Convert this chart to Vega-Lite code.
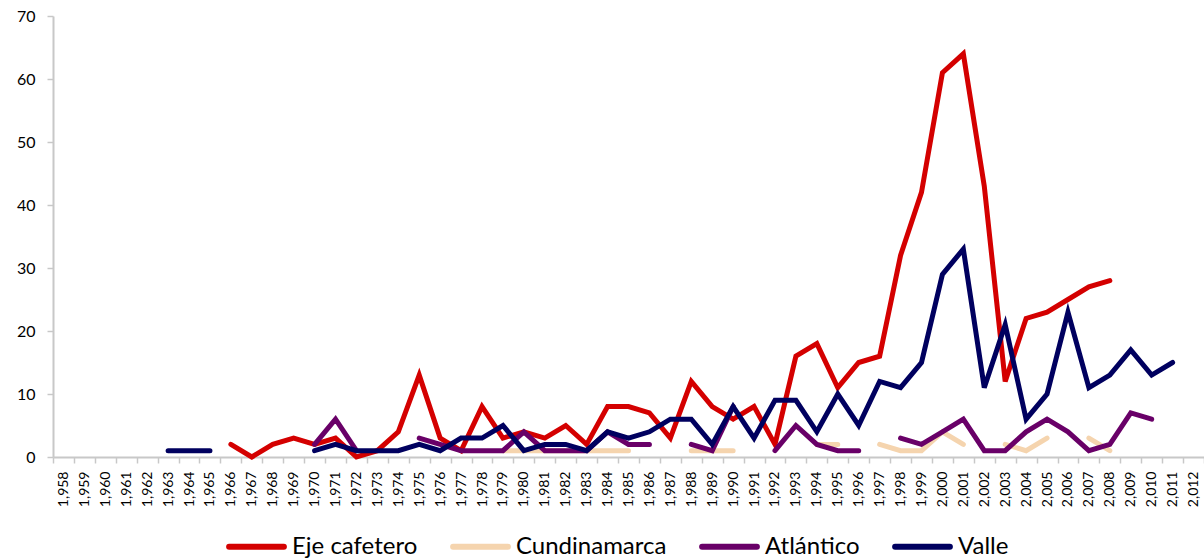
{
  "$schema": "https://vega.github.io/schema/vega-lite/v6.json",
  "width": 1151,
  "height": 441,
  "autosize": {"type": "none"},
  "padding": {"left": 53, "top": 16, "right": 0, "bottom": 102},
  "config": {"view": {"stroke": null}, "font": "Lato", "axis": {"grid": false}},
  "datasets": {
    "series": [
      {"year": 1966, "serie": "Eje cafetero", "value": 2},
      {"year": 1967, "serie": "Eje cafetero", "value": 0},
      {"year": 1968, "serie": "Eje cafetero", "value": 2},
      {"year": 1969, "serie": "Eje cafetero", "value": 3},
      {"year": 1970, "serie": "Eje cafetero", "value": 2},
      {"year": 1971, "serie": "Eje cafetero", "value": 3},
      {"year": 1972, "serie": "Eje cafetero", "value": 0},
      {"year": 1973, "serie": "Eje cafetero", "value": 1},
      {"year": 1974, "serie": "Eje cafetero", "value": 4},
      {"year": 1975, "serie": "Eje cafetero", "value": 13},
      {"year": 1976, "serie": "Eje cafetero", "value": 3},
      {"year": 1977, "serie": "Eje cafetero", "value": 1},
      {"year": 1978, "serie": "Eje cafetero", "value": 8},
      {"year": 1979, "serie": "Eje cafetero", "value": 3},
      {"year": 1980, "serie": "Eje cafetero", "value": 4},
      {"year": 1981, "serie": "Eje cafetero", "value": 3},
      {"year": 1982, "serie": "Eje cafetero", "value": 5},
      {"year": 1983, "serie": "Eje cafetero", "value": 2},
      {"year": 1984, "serie": "Eje cafetero", "value": 8},
      {"year": 1985, "serie": "Eje cafetero", "value": 8},
      {"year": 1986, "serie": "Eje cafetero", "value": 7},
      {"year": 1987, "serie": "Eje cafetero", "value": 3},
      {"year": 1988, "serie": "Eje cafetero", "value": 12},
      {"year": 1989, "serie": "Eje cafetero", "value": 8},
      {"year": 1990, "serie": "Eje cafetero", "value": 6},
      {"year": 1991, "serie": "Eje cafetero", "value": 8},
      {"year": 1992, "serie": "Eje cafetero", "value": 2},
      {"year": 1993, "serie": "Eje cafetero", "value": 16},
      {"year": 1994, "serie": "Eje cafetero", "value": 18},
      {"year": 1995, "serie": "Eje cafetero", "value": 11},
      {"year": 1996, "serie": "Eje cafetero", "value": 15},
      {"year": 1997, "serie": "Eje cafetero", "value": 16},
      {"year": 1998, "serie": "Eje cafetero", "value": 32},
      {"year": 1999, "serie": "Eje cafetero", "value": 42},
      {"year": 2000, "serie": "Eje cafetero", "value": 61},
      {"year": 2001, "serie": "Eje cafetero", "value": 64},
      {"year": 2002, "serie": "Eje cafetero", "value": 43},
      {"year": 2003, "serie": "Eje cafetero", "value": 12},
      {"year": 2004, "serie": "Eje cafetero", "value": 22},
      {"year": 2005, "serie": "Eje cafetero", "value": 23},
      {"year": 2006, "serie": "Eje cafetero", "value": 25},
      {"year": 2007, "serie": "Eje cafetero", "value": 27},
      {"year": 2008, "serie": "Eje cafetero", "value": 28},

      {"year": 1979, "serie": "Cundinamarca", "value": 1},
      {"year": 1980, "serie": "Cundinamarca", "value": 1},
      {"year": 1981, "serie": "Cundinamarca", "value": 1},
      {"year": 1982, "serie": "Cundinamarca", "value": 1},
      {"year": 1983, "serie": "Cundinamarca", "value": 1},
      {"year": 1984, "serie": "Cundinamarca", "value": 1},
      {"year": 1985, "serie": "Cundinamarca", "value": 1},
      {"year": 1986, "serie": "Cundinamarca", "value": null},
      {"year": 1988, "serie": "Cundinamarca", "value": 1},
      {"year": 1989, "serie": "Cundinamarca", "value": 1},
      {"year": 1990, "serie": "Cundinamarca", "value": 1},
      {"year": 1991, "serie": "Cundinamarca", "value": null},
      {"year": 1994, "serie": "Cundinamarca", "value": 2},
      {"year": 1995, "serie": "Cundinamarca", "value": 2},
      {"year": 1996, "serie": "Cundinamarca", "value": null},
      {"year": 1997, "serie": "Cundinamarca", "value": 2},
      {"year": 1998, "serie": "Cundinamarca", "value": 1},
      {"year": 1999, "serie": "Cundinamarca", "value": 1},
      {"year": 2000, "serie": "Cundinamarca", "value": 4},
      {"year": 2001, "serie": "Cundinamarca", "value": 2},
      {"year": 2002, "serie": "Cundinamarca", "value": null},
      {"year": 2003, "serie": "Cundinamarca", "value": 2},
      {"year": 2004, "serie": "Cundinamarca", "value": 1},
      {"year": 2005, "serie": "Cundinamarca", "value": 3},
      {"year": 2006, "serie": "Cundinamarca", "value": null},
      {"year": 2007, "serie": "Cundinamarca", "value": 3},
      {"year": 2008, "serie": "Cundinamarca", "value": 1},

      {"year": 1970, "serie": "Atlántico", "value": 2},
      {"year": 1971, "serie": "Atlántico", "value": 6},
      {"year": 1972, "serie": "Atlántico", "value": 1},
      {"year": 1973, "serie": "Atlántico", "value": null},
      {"year": 1974, "serie": "Atlántico", "value": null},
      {"year": 1975, "serie": "Atlántico", "value": 3},
      {"year": 1976, "serie": "Atlántico", "value": 2},
      {"year": 1977, "serie": "Atlántico", "value": 1},
      {"year": 1978, "serie": "Atlántico", "value": 1},
      {"year": 1979, "serie": "Atlántico", "value": 1},
      {"year": 1980, "serie": "Atlántico", "value": 4},
      {"year": 1981, "serie": "Atlántico", "value": 1},
      {"year": 1982, "serie": "Atlántico", "value": 1},
      {"year": 1983, "serie": "Atlántico", "value": 1},
      {"year": 1984, "serie": "Atlántico", "value": 4},
      {"year": 1985, "serie": "Atlántico", "value": 2},
      {"year": 1986, "serie": "Atlántico", "value": 2},
      {"year": 1987, "serie": "Atlántico", "value": null},
      {"year": 1988, "serie": "Atlántico", "value": 2},
      {"year": 1989, "serie": "Atlántico", "value": 1},
      {"year": 1990, "serie": "Atlántico", "value": 8},
      {"year": 1991, "serie": "Atlántico", "value": null},
      {"year": 1992, "serie": "Atlántico", "value": 1},
      {"year": 1993, "serie": "Atlántico", "value": 5},
      {"year": 1994, "serie": "Atlántico", "value": 2},
      {"year": 1995, "serie": "Atlántico", "value": 1},
      {"year": 1996, "serie": "Atlántico", "value": 1},
      {"year": 1997, "serie": "Atlántico", "value": null},
      {"year": 1998, "serie": "Atlántico", "value": 3},
      {"year": 1999, "serie": "Atlántico", "value": 2},
      {"year": 2000, "serie": "Atlántico", "value": 4},
      {"year": 2001, "serie": "Atlántico", "value": 6},
      {"year": 2002, "serie": "Atlántico", "value": 1},
      {"year": 2003, "serie": "Atlántico", "value": 1},
      {"year": 2004, "serie": "Atlántico", "value": 4},
      {"year": 2005, "serie": "Atlántico", "value": 6},
      {"year": 2006, "serie": "Atlántico", "value": 4},
      {"year": 2007, "serie": "Atlántico", "value": 1},
      {"year": 2008, "serie": "Atlántico", "value": 2},
      {"year": 2009, "serie": "Atlántico", "value": 7},
      {"year": 2010, "serie": "Atlántico", "value": 6},

      {"year": 1963, "serie": "Valle", "value": 1},
      {"year": 1964, "serie": "Valle", "value": 1},
      {"year": 1965, "serie": "Valle", "value": 1},
      {"year": 1966, "serie": "Valle", "value": null},
      {"year": 1970, "serie": "Valle", "value": 1},
      {"year": 1971, "serie": "Valle", "value": 2},
      {"year": 1972, "serie": "Valle", "value": 1},
      {"year": 1973, "serie": "Valle", "value": 1},
      {"year": 1974, "serie": "Valle", "value": 1},
      {"year": 1975, "serie": "Valle", "value": 2},
      {"year": 1976, "serie": "Valle", "value": 1},
      {"year": 1977, "serie": "Valle", "value": 3},
      {"year": 1978, "serie": "Valle", "value": 3},
      {"year": 1979, "serie": "Valle", "value": 5},
      {"year": 1980, "serie": "Valle", "value": 1},
      {"year": 1981, "serie": "Valle", "value": 2},
      {"year": 1982, "serie": "Valle", "value": 2},
      {"year": 1983, "serie": "Valle", "value": 1},
      {"year": 1984, "serie": "Valle", "value": 4},
      {"year": 1985, "serie": "Valle", "value": 3},
      {"year": 1986, "serie": "Valle", "value": 4},
      {"year": 1987, "serie": "Valle", "value": 6},
      {"year": 1988, "serie": "Valle", "value": 6},
      {"year": 1989, "serie": "Valle", "value": 2},
      {"year": 1990, "serie": "Valle", "value": 8},
      {"year": 1991, "serie": "Valle", "value": 3},
      {"year": 1992, "serie": "Valle", "value": 9},
      {"year": 1993, "serie": "Valle", "value": 9},
      {"year": 1994, "serie": "Valle", "value": 4},
      {"year": 1995, "serie": "Valle", "value": 10},
      {"year": 1996, "serie": "Valle", "value": 5},
      {"year": 1997, "serie": "Valle", "value": 12},
      {"year": 1998, "serie": "Valle", "value": 11},
      {"year": 1999, "serie": "Valle", "value": 15},
      {"year": 2000, "serie": "Valle", "value": 29},
      {"year": 2001, "serie": "Valle", "value": 33},
      {"year": 2002, "serie": "Valle", "value": 11},
      {"year": 2003, "serie": "Valle", "value": 21},
      {"year": 2004, "serie": "Valle", "value": 6},
      {"year": 2005, "serie": "Valle", "value": 10},
      {"year": 2006, "serie": "Valle", "value": 23},
      {"year": 2007, "serie": "Valle", "value": 11},
      {"year": 2008, "serie": "Valle", "value": 13},
      {"year": 2009, "serie": "Valle", "value": 17},
      {"year": 2010, "serie": "Valle", "value": 13},
      {"year": 2011, "serie": "Valle", "value": 15}
    ]
  },
  "data": {"name": "series"},
  "mark": {
    "type": "line",
    "strokeWidth": 5,
    "strokeCap": "round",
    "strokeJoin": "miter",
    "invalid": "break-paths-filter-domains"
  },
  "encoding": {
    "x": {
      "field": "year",
      "type": "ordinal",
      "bandPosition": 0.5,
      "scale": {
        "type": "band",
        "paddingInner": 0,
        "paddingOuter": 0,
        "domain": [1958,1959,1960,1961,1962,1963,1964,1965,1966,1967,1968,1969,1970,1971,1972,1973,1974,1975,1976,1977,1978,1979,1980,1981,1982,1983,1984,1985,1986,1987,1988,1989,1990,1991,1992,1993,1994,1995,1996,1997,1998,1999,2000,2001,2002,2003,2004,2005,2006,2007,2008,2009,2010,2011,2012]
      },
      "axis": {
        "title": null,
        "labelExpr": "isValid(datum.value) ? format(datum.value, ',') : ''",
        "labelAngle": 270,
        "labelAlign": "right",
        "labelBaseline": "middle",
        "labelFontSize": 14,
        "labelColor": "#000000",
        "labelPadding": 8,
        "tickBand": "extent",
        "tickColor": "#c8c8c8",
        "tickSize": 6,
        "tickWidth": 1.5,
        "domainColor": "#c8c8c8",
        "domainWidth": 2,
        "labelOverlap": false,
        "encode": {"labels": {"update": {"dx": {"value": -9}}}}
      }
    },
    "y": {
      "field": "value",
      "type": "quantitative",
      "scale": {"domain": [0, 70], "nice": false},
      "axis": {
        "title": null,
        "values": [0, 10, 20, 30, 40, 50, 60, 70],
        "labelFontSize": 16,
        "labelColor": "#000000",
        "labelPadding": 12,
        "tickColor": "#c8c8c8",
        "tickSize": 6,
        "tickWidth": 1.5,
        "domainColor": "#c8c8c8",
        "domainWidth": 2
      }
    },
    "color": {
      "field": "serie",
      "type": "nominal",
      "scale": {
        "domain": ["Eje cafetero", "Cundinamarca", "Atlántico", "Valle"],
        "range": ["#d40000", "#f5d4ae", "#690068", "#00005f"]
      },
      "legend": {
        "title": null,
        "orient": "none",
        "direction": "horizontal",
        "legendX": 173,
        "legendY": 500,
        "symbolType": "stroke",
        "symbolSize": 3000,
        "symbolStrokeWidth": 6,
        "labelFontSize": 24,
        "labelColor": "#000000",
        "labelOffset": 5,
        "labelLimit": 400,
        "columnPadding": 23,
        "encode": {"symbols": {"update": {"strokeCap": {"value": "round"}}}}
      }
    }
  }
}
